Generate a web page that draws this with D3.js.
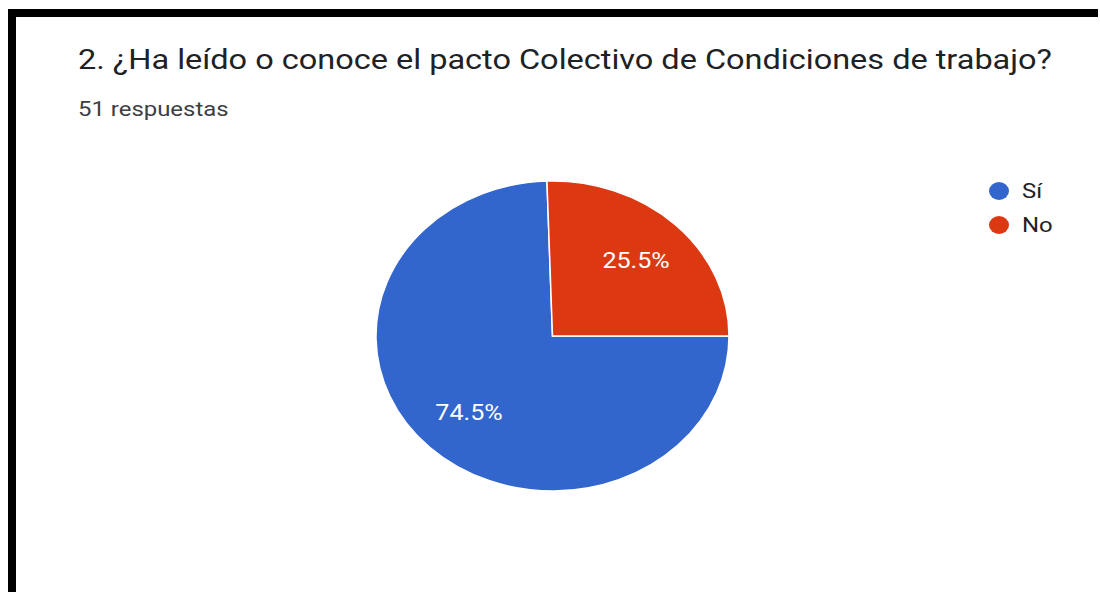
<!DOCTYPE html>
<html>
<head>
<meta charset="utf-8">
<script src="https://cdn.jsdelivr.net/npm/d3@7"></script>
<style>
  body { margin: 0; background: #fff; }
  svg text { font-family: Roboto, "Noto Sans", sans-serif; }
</style>
</head>
<body>
<div id="chart"></div>
<script>
// values
var categories = ["Sí", "No"];
var values = [74.5, 25.5];
var colors = ["#3366cc", "#dc3912"];
var title = "2. ¿Ha leído o conoce el pacto Colectivo de Condiciones de trabajo?";
var subtitle = "51 respuestas";

var width = 1100, height = 592;
var sx = 1.14; // the screenshot is stretched sideways

var svg = d3.select("#chart").append("svg")
    .attr("width", width)
    .attr("height", height);

svg.append("rect").attr("width", width).attr("height", height).attr("fill", "#fff");

// black frame (top + left)
svg.append("rect").attr("x", 8).attr("y", 9).attr("width", 1090).attr("height", 8).attr("fill", "#000");
svg.append("rect").attr("x", 8).attr("y", 9).attr("width", 8).attr("height", 583).attr("fill", "#000");

svg.append("text")
    .attr("transform", "translate(78,69) scale(" + sx + ",1)")
    .attr("font-size", 28.5)
    .attr("fill", "#202124")
    .text(title);

svg.append("text")
    .attr("transform", "translate(78,116) scale(" + sx + ",1)")
    .attr("font-size", 21)
    .attr("fill", "#3c4043")
    .text(subtitle);

var cx = 552.5, cy = 336, r = 155;
var g = svg.append("g").attr("transform", "translate(" + cx + "," + cy + ")");
var pieG = g.append("g").attr("transform", "scale(" + (176.5 / r) + ",1)");

var pie = d3.pie().sort(null)
    .startAngle(Math.PI / 2)
    .endAngle(Math.PI / 2 + 2 * Math.PI);
var arcs = pie(values);
var arc = d3.arc().innerRadius(0).outerRadius(r);
var labelArc = d3.arc().innerRadius(r * 0.68).outerRadius(r * 0.68);

pieG.selectAll("path.slice")
    .data(arcs)
    .enter().append("path")
    .attr("class", "slice")
    .attr("d", arc)
    .attr("fill", function(d, i) { return colors[i]; })
    .attr("stroke", "#fff")
    .attr("stroke-width", 1.5)
    .attr("vector-effect", "non-scaling-stroke");

g.selectAll("text.pct")
    .data(arcs)
    .enter().append("text")
    .attr("class", "pct")
    .attr("transform", function(d) {
      var c = labelArc.centroid(d);
      return "translate(" + (c[0] * 176.5 / r) + "," + c[1] + ") scale(" + sx + ",1)";
    })
    .attr("text-anchor", "middle")
    .attr("dy", "0.36em")
    .attr("font-size", 22)
    .attr("fill", "#fff")
    .text(function(d) { return d.data.toFixed(1) + "%"; });

var legend = svg.append("g").attr("transform", "translate(999,191)");
var items = legend.selectAll("g")
    .data(categories)
    .enter().append("g")
    .attr("transform", function(d, i) { return "translate(0," + (i * 34) + ")"; });
items.append("ellipse").attr("rx", 10).attr("ry", 9).attr("fill", function(d, i) { return colors[i]; });
items.append("text")
    .attr("transform", "translate(23,7) scale(" + sx + ",1)")
    .attr("font-size", 21)
    .attr("fill", "#222")
    .text(function(d) { return d; });
</script>
</body>
</html>
